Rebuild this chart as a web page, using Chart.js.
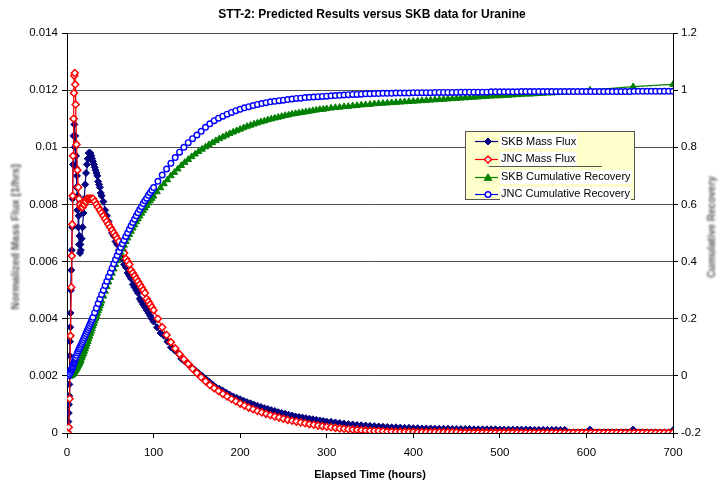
<!DOCTYPE html>
<html>
<head>
<meta charset="utf-8">
<script src="https://cdn.jsdelivr.net/npm/chart.js@4.4.1/dist/chart.umd.min.js"></script>
<style>
  html, body { margin: 0; padding: 0; background: #ffffff; }
  #wrap { width: 720px; height: 486px; }
</style>
</head>
<body>
<div id="wrap"><canvas id="c" width="720" height="486"></canvas></div>
<script>
// ---- text ----
const chartTitle = 'STT-2: Predicted Results versus SKB data for Uranine';
const xTitle = 'Elapsed Time (hours)';
const leftTitle = 'Normalized Mass Flux [1/hrs]';
const rightTitle = 'Cumulative Recovery';
const seriesNames = ['SKB Mass Flux', 'JNC Mass Flux', 'SKB Cumulative Recovery', 'JNC Cumulative Recovery'];

// ---- ticks ----
const xTickValues = [0, 100, 200, 300, 400, 500, 600, 700];
const xTickLabels = ['0', '100', '200', '300', '400', '500', '600', '700'];
const leftTickValues = [0, 0.002, 0.004, 0.006, 0.008, 0.01, 0.012, 0.014];
const leftTickLabels = ['0', '0.002', '0.004', '0.006', '0.008', '0.01', '0.012', '0.014'];
const rightTickValues = [-0.2, 0, 0.2, 0.4, 0.6, 0.8, 1, 1.2];
const rightTickLabels = ['-0.2', '0', '0.2', '0.4', '0.6', '0.8', '1', '1.2'];

// ---- SKB measurements ----
const skbHours = [
  0, 0.5, 1, 1.5, 2, 2.25, 2.5, 2.75, 3, 3.25, 3.5, 3.75, 4, 4.5, 5, 5.5, 6, 6.5, 7, 7.5,
  8, 8.5, 9, 9.5, 10, 10.5, 11, 11.5, 12, 12.5, 13, 13.5, 14, 14.5, 15, 15.5, 16,
  17, 18, 19, 20, 21, 22, 23, 24, 25, 26, 27, 28, 29, 30, 31, 32, 33, 34, 35, 36, 37, 38, 39, 40,
  42, 44, 46, 48, 50, 52, 54, 56, 58, 60, 62, 64, 66, 68, 70, 72, 74, 76, 78, 80,
  82, 84, 86, 88, 90, 92, 94, 96, 98, 100,
  104, 108, 112, 116, 120, 124, 128, 132, 136, 140, 144, 148, 152, 156, 160, 164, 168, 172, 176, 180,
  184, 188, 192, 196, 200, 204, 208, 212, 216, 220, 224, 228, 232, 236, 240, 244, 248, 252, 256, 260,
  264, 268, 272, 276, 280, 284, 288, 292, 296, 300,
  305, 310, 315, 320, 325, 330, 335, 340, 345, 350, 355, 360, 365, 370, 375, 380, 385, 390, 395, 400,
  405, 410, 415, 420, 425, 430, 435, 440, 445, 450, 455, 460, 465, 470, 475, 480, 485, 490, 495, 500,
  505, 510, 515, 520, 525, 530, 535, 540, 545, 550, 555, 560, 565, 570, 575,
  604, 654, 700
];
const skbMassFlux = [
  0, 0.00005, 0.0002, 0.0004, 0.0007, 0.001, 0.0013, 0.0017, 0.0022, 0.0027, 0.0032, 0.0037, 0.0042, 0.005, 0.0057, 0.0064, 0.0072, 0.0082, 0.0094, 0.0104,
  0.011, 0.0108, 0.01, 0.0104, 0.0093, 0.0097, 0.0086, 0.009, 0.0078, 0.0083, 0.0072, 0.0076, 0.0066, 0.0069, 0.0063, 0.0066, 0.0064,
  0.0068, 0.0072, 0.0077, 0.0082, 0.0087, 0.0091, 0.0094, 0.0096, 0.0098, 0.0098, 0.0098, 0.0097, 0.0096, 0.0095, 0.0094, 0.0093, 0.0092, 0.0091, 0.009, 0.0088, 0.0087, 0.0086, 0.0084, 0.0083,
  0.0081, 0.0078, 0.0076, 0.0074, 0.0072, 0.007, 0.0069, 0.0067, 0.0066, 0.0064, 0.0062, 0.0061, 0.0059, 0.0058, 0.0056, 0.0055, 0.0054, 0.0052, 0.0051, 0.005,
  0.0049, 0.0047, 0.0046, 0.0045, 0.0044, 0.0043, 0.0042, 0.0041, 0.004, 0.0039,
  0.0037, 0.0035, 0.0034, 0.0032, 0.003, 0.0029, 0.0028, 0.0026, 0.0025, 0.0024, 0.0023, 0.0022, 0.0021, 0.002, 0.0019, 0.0018, 0.0017, 0.0016, 0.00155, 0.00148,
  0.00141, 0.00134, 0.00128, 0.00123, 0.00118, 0.00113, 0.00108, 0.00104, 0.00099, 0.00095, 0.00091, 0.00087, 0.00084, 0.0008, 0.00077, 0.00073, 0.0007, 0.00067, 0.00064, 0.00061,
  0.00058, 0.00056, 0.00054, 0.00052, 0.0005, 0.00048, 0.00046, 0.00044, 0.00042, 0.0004,
  0.00039, 0.00037, 0.00035, 0.00033, 0.00031, 0.0003, 0.00028, 0.00027, 0.00026, 0.00025, 0.00024, 0.00023, 0.00022, 0.00021, 0.0002, 0.0002, 0.00019, 0.00018, 0.00018, 0.00017,
  0.00017, 0.00016, 0.00016, 0.00016, 0.00015, 0.00015, 0.00015, 0.00015, 0.00014, 0.00014, 0.00014, 0.00014, 0.00014, 0.00013, 0.00013, 0.00013, 0.00013, 0.00013, 0.00013, 0.00012,
  0.00012, 0.00012, 0.00012, 0.00012, 0.00012, 0.00012, 0.00012, 0.00011, 0.00011, 0.00011, 0.00011, 0.00011, 0.00011, 0.00011, 0.00011,
  0.00012, 0.00012, 0.0001
];
const skbRecovery = [
  0, 0, 0, 0, 0, 0, 0, 0, 0, 0, 0, 0, 0, 0.001, 0.002, 0.003, 0.004, 0.005, 0.007, 0.009,
  0.011, 0.013, 0.016, 0.018, 0.021, 0.023, 0.026, 0.028, 0.031, 0.034, 0.037, 0.04, 0.043, 0.046, 0.049, 0.052, 0.056,
  0.063, 0.07, 0.078, 0.086, 0.094, 0.102, 0.111, 0.12, 0.129, 0.138, 0.147, 0.156, 0.165, 0.174, 0.183, 0.192, 0.201, 0.21, 0.219, 0.228, 0.236, 0.245, 0.253, 0.262,
  0.279, 0.296, 0.312, 0.328, 0.344, 0.359, 0.374, 0.389, 0.403, 0.417, 0.431, 0.444, 0.457, 0.47, 0.482, 0.494, 0.506, 0.517, 0.528, 0.539,
  0.549, 0.559, 0.569, 0.578, 0.587, 0.596, 0.605, 0.613, 0.621, 0.629,
  0.644, 0.658, 0.672, 0.686, 0.7, 0.712, 0.724, 0.736, 0.747, 0.757, 0.767, 0.776, 0.785, 0.793, 0.801, 0.809, 0.816, 0.823, 0.83, 0.836,
  0.842, 0.848, 0.853, 0.858, 0.863, 0.868, 0.873, 0.877, 0.881, 0.885, 0.889, 0.892, 0.896, 0.899, 0.902, 0.905, 0.908, 0.911, 0.913, 0.916,
  0.918, 0.92, 0.922, 0.924, 0.926, 0.928, 0.93, 0.932, 0.933, 0.935,
  0.937, 0.939, 0.94, 0.942, 0.943, 0.945, 0.946, 0.948, 0.949, 0.95, 0.952, 0.953, 0.954, 0.955, 0.956, 0.957, 0.958, 0.959, 0.96, 0.961,
  0.962, 0.963, 0.964, 0.965, 0.966, 0.967, 0.968, 0.969, 0.97, 0.971, 0.972, 0.973, 0.974, 0.975, 0.976, 0.977, 0.978, 0.979, 0.98, 0.98,
  0.981, 0.982, 0.983, 0.984, 0.985, 0.986, 0.986, 0.987, 0.988, 0.989, 0.99, 0.99, 0.991, 0.992, 0.993,
  1.0, 1.012, 1.02
];

// ---- JNC predictions ----
const jncHours = [
  0, 1, 2, 3, 4, 5, 5.5, 6, 6.5, 7, 7.5, 8, 8.5, 9, 9.5,
  10, 11, 12, 13, 14, 15, 16, 17, 18, 19, 20, 21, 22, 23, 24, 25, 26, 27, 28, 29, 30,
  32, 34, 36, 38, 40, 42, 44, 46, 48, 50, 52, 54, 56, 58, 60, 62, 64, 66, 68, 70,
  72, 74, 76, 78, 80, 82, 84, 86, 88, 90, 92, 94, 96, 98, 100,
  105, 110, 115, 120, 125, 130, 135, 140, 145, 150, 155, 160, 165, 170, 175, 180, 185, 190, 195, 200,
  205, 210, 215, 220, 225, 230, 235, 240, 245, 250, 255, 260, 265, 270, 275, 280, 285, 290, 295, 300,
  305, 310, 315, 320, 325, 330, 335, 340, 345, 350, 355, 360, 365, 370, 375, 380, 385, 390, 395, 400,
  405, 410, 415, 420, 425, 430, 435, 440, 445, 450, 455, 460, 465, 470, 475, 480, 485, 490, 495, 500,
  505, 510, 515, 520, 525, 530, 535, 540, 545, 550, 555, 560, 565, 570, 575, 580, 585, 590, 595, 600,
  605, 610, 615, 620, 625, 630, 635, 640, 645, 650, 655, 660, 665, 670, 675, 680, 685, 690, 695, 700
];
const jncMassFlux = [
  0, 0, 0.0002, 0.0012, 0.0034, 0.0051, 0.0062, 0.0073, 0.0083, 0.0097, 0.011, 0.0119, 0.0125, 0.0126, 0.0122,
  0.0115, 0.0101, 0.0092, 0.0086, 0.0082, 0.008, 0.0079, 0.0079, 0.0079, 0.008, 0.008, 0.0081, 0.0081, 0.0082, 0.0082, 0.0082, 0.0082, 0.0082, 0.0082, 0.0082, 0.0082,
  0.0081, 0.008, 0.0079, 0.0078, 0.0077, 0.0076, 0.0075, 0.0074, 0.0073, 0.0072, 0.0071, 0.007, 0.0069, 0.0068, 0.0067, 0.0065, 0.0064, 0.0063, 0.0061, 0.006,
  0.0059, 0.0057, 0.0056, 0.0055, 0.0054, 0.0053, 0.0052, 0.0051, 0.005, 0.0049, 0.0047, 0.0046, 0.0045, 0.0044, 0.0043,
  0.004, 0.0037, 0.00343, 0.00318, 0.00296, 0.00276, 0.00258, 0.00242, 0.00225, 0.0021, 0.00195, 0.00181, 0.00168, 0.00157, 0.00147, 0.00137, 0.00128, 0.00119, 0.00111, 0.00103,
  0.00096, 0.00089, 0.00083, 0.00077, 0.00072, 0.00067, 0.00062, 0.00058, 0.00054, 0.0005, 0.00046, 0.00043, 0.0004, 0.00037, 0.00034, 0.00031, 0.00029, 0.00026, 0.00024, 0.00022,
  0.0002, 0.00018, 0.00016, 0.00015, 0.00013, 0.00012, 0.00011, 0.0001, 0.00009, 0.00008, 0.00007, 0.00007, 0.00006, 0.00005, 0.00005, 0.00004, 0.00004, 0.00004, 0.00004, 0.00004,
  0.00003, 0.00003, 0.00003, 0.00003, 0.00003, 0.00003, 0.00003, 0.00003, 0.00003, 0.00003, 0.00002, 0.00002, 0.00002, 0.00002, 0.00002, 0.00002, 0.00002, 0.00002, 0.00002, 0.00002,
  0.00002, 0.00002, 0.00002, 0.00002, 0.00001, 0.00001, 0.00001, 0.00001, 0.00001, 0.00001, 0.00001, 0.00001, 0.00001, 0.00001, 0.00001, 0.00001, 0.00001, 0.00001, 0.00001, 0.00001,
  0.00001, 0.00001, 0.00001, 0.00001, 0.00001, 0.00001, 0.00001, 0.00001, 0.00001, 0.00001, 0.00001, 0.00001, 0.00001, 0.00001, 0.00001, 0.00001, 0.00001, 0.00001, 0.00001, 0.00001
];
const jncRecovery = [
  0, 0, 0.001, 0.006, 0.012, 0.019, 0.023, 0.027, 0.031, 0.036, 0.041, 0.046, 0.05, 0.055, 0.06,
  0.064, 0.072, 0.08, 0.087, 0.094, 0.1, 0.107, 0.113, 0.12, 0.127, 0.134, 0.141, 0.148, 0.155, 0.162, 0.169, 0.176, 0.183, 0.19, 0.197, 0.205,
  0.221, 0.237, 0.253, 0.269, 0.285, 0.3, 0.316, 0.331, 0.347, 0.362, 0.377, 0.392, 0.407, 0.421, 0.435, 0.449, 0.462, 0.475, 0.488, 0.5,
  0.513, 0.525, 0.537, 0.548, 0.56, 0.571, 0.582, 0.592, 0.603, 0.613, 0.622, 0.632, 0.641, 0.65, 0.659,
  0.681, 0.703, 0.724, 0.744, 0.764, 0.783, 0.8, 0.816, 0.83, 0.843, 0.856, 0.87, 0.882, 0.893, 0.902, 0.909, 0.916, 0.922, 0.928, 0.933,
  0.938, 0.942, 0.946, 0.95, 0.953, 0.956, 0.959, 0.961, 0.963, 0.965, 0.967, 0.969, 0.971, 0.972, 0.974, 0.975, 0.976, 0.977, 0.978, 0.979,
  0.98, 0.981, 0.982, 0.983, 0.984, 0.985, 0.985, 0.986, 0.987, 0.987, 0.988, 0.988, 0.989, 0.989, 0.989, 0.99, 0.99, 0.99, 0.99, 0.991,
  0.991, 0.991, 0.991, 0.991, 0.992, 0.992, 0.992, 0.992, 0.992, 0.992, 0.993, 0.993, 0.993, 0.993, 0.993, 0.993, 0.993, 0.994, 0.994, 0.994,
  0.994, 0.994, 0.994, 0.994, 0.995, 0.995, 0.995, 0.995, 0.995, 0.995, 0.995, 0.995, 0.995, 0.995, 0.995, 0.995, 0.995, 0.995, 0.995, 0.995,
  0.995, 0.995, 0.995, 0.995, 0.995, 0.995, 0.995, 0.995, 0.995, 0.995, 0.996, 0.996, 0.996, 0.996, 0.996, 0.996, 0.996, 0.996, 0.996, 0.996
];

// ---- drawing ----
const FONT = '"Liberation Sans", Arial, Helvetica, sans-serif';
const toPoints = (xs, ys) => xs.map((x, i) => ({ x: x, y: ys[i] }));

const seriesStyles = [
  { color: '#000080', fill: '#000080', shape: 'diamond', r: 3.5, bw: 1 },
  { color: '#ff0000', fill: '#ffffff', shape: 'diamond', r: 3.5, bw: 1.5 },
  { color: '#008000', fill: '#008000', shape: 'triangle', r: 3.8, bw: 1 },
  { color: '#0000ff', fill: '#ffffff', shape: 'circle', r: 2.8, bw: 1.4 }
];
const chartStyle = ['rectRot', 'rectRot', 'triangle', 'circle'];

function makeDataset(i, data, axis, order) {
  const s = seriesStyles[i];
  return {
    label: seriesNames[i],
    data: data,
    yAxisID: axis,
    showLine: true,
    borderColor: s.color,
    backgroundColor: s.color,
    borderWidth: 1.2,
    pointStyle: chartStyle[i],
    pointRadius: s.r,
    pointBackgroundColor: s.fill,
    pointBorderColor: s.color,
    pointBorderWidth: s.bw,
    tension: 0,
    order: order
  };
}

function marker(ctx, shape, x, y, r, stroke, fill, bw) {
  ctx.save();
  ctx.beginPath();
  if (shape === 'diamond') {
    ctx.moveTo(x, y - r); ctx.lineTo(x + r, y); ctx.lineTo(x, y + r); ctx.lineTo(x - r, y); ctx.closePath();
  } else if (shape === 'triangle') {
    ctx.moveTo(x, y - r); ctx.lineTo(x + r, y + r * 0.75); ctx.lineTo(x - r, y + r * 0.75); ctx.closePath();
  } else {
    ctx.arc(x, y, r, 0, Math.PI * 2);
  }
  ctx.fillStyle = fill; ctx.fill();
  ctx.lineWidth = bw; ctx.strokeStyle = stroke; ctx.stroke();
  ctx.restore();
}

const decorations = {
  id: 'decorations',
  afterDraw(chart) {
    const ctx = chart.ctx;
    const area = chart.chartArea;
    ctx.save();
    // chart title
    ctx.fillStyle = '#000';
    ctx.font = 'bold 12px ' + FONT;
    ctx.textAlign = 'center';
    ctx.textBaseline = 'middle';
    ctx.fillText(chartTitle, (area.left + area.right) / 2 + 2, 15);

    // axis titles (soft grey)
    ctx.filter = 'blur(0.8px)';
    ctx.fillStyle = '#555';
    ctx.font = 'bold 10.5px ' + FONT;
    ctx.save();
    ctx.translate(16, 237);
    ctx.rotate(-Math.PI / 2);
    ctx.fillText(leftTitle, 0, 0);
    ctx.restore();
    ctx.font = 'bold 10px ' + FONT;
    ctx.save();
    ctx.translate(712, 227);
    ctx.rotate(-Math.PI / 2);
    ctx.fillText(rightTitle, 0, 0);
    ctx.restore();
    ctx.filter = 'none';

    // legend
    const bx = 465.5, by = 131.5, bw = 169, bh = 68;
    ctx.fillStyle = '#ffffcc';
    ctx.fillRect(bx, by, bw, bh);
    ctx.strokeStyle = '#555';
    ctx.lineWidth = 1;
    ctx.strokeRect(bx, by, bw, bh);
    const rows = [141, 158.5, 176.5, 193.5];
    ctx.font = '11px ' + FONT;
    ctx.textAlign = 'left';
    ctx.textBaseline = 'middle';
    for (let i = 0; i < seriesNames.length; i++) {
      const y = rows[i];
      const s = seriesStyles[i];
      const tw = ctx.measureText(seriesNames[i]).width;
      ctx.fillStyle = '#ffffff';
      ctx.fillRect(500, Math.round(y) - 7, tw + 2, 14);
      ctx.strokeStyle = s.color;
      ctx.lineWidth = 1.2;
      ctx.beginPath();
      ctx.moveTo(475, Math.round(y) + 0.5);
      ctx.lineTo(498, Math.round(y) + 0.5);
      ctx.stroke();
      marker(ctx, s.shape, 488, Math.round(y) + 0.5, s.r, s.color, s.fill, s.bw);
      ctx.fillStyle = '#000';
      ctx.fillText(seriesNames[i], 501, y + 0.5);
    }
    ctx.strokeStyle = '#555';
    ctx.lineWidth = 1;
    ctx.beginPath();
    ctx.moveTo(489, 166.5);
    ctx.lineTo(602, 166.5);
    ctx.stroke();
    ctx.restore();
  }
};

const tickFont = { family: FONT, size: 11.5 };

new Chart(document.getElementById('c'), {
  type: 'scatter',
  data: {
    datasets: [
      makeDataset(0, toPoints(skbHours, skbMassFlux), 'y', 3),
      makeDataset(1, toPoints(jncHours, jncMassFlux), 'y', 2),
      makeDataset(2, toPoints(skbHours, skbRecovery), 'y1', 1),
      makeDataset(3, toPoints(jncHours, jncRecovery), 'y1', 0)
    ]
  },
  options: {
    responsive: false,
    animation: false,
    devicePixelRatio: 1,
    layout: { padding: { top: 33, left: 0, right: 0, bottom: 0 } },
    plugins: {
      legend: { display: false },
      tooltip: { enabled: false },
      title: { display: false }
    },
    scales: {
      x: {
        type: 'linear',
        position: 'bottom',
        min: 0,
        max: 700,
        afterBuildTicks: (s) => { s.ticks = xTickValues.map(v => ({ value: v })); },
        afterFit: (s) => { s.height = 53; },
        grid: { drawOnChartArea: false, drawTicks: true, tickLength: 5, tickColor: '#000', color: '#000' },
        border: { display: true, color: '#000', width: 1 },
        ticks: {
          font: tickFont, color: '#000', padding: 8, maxRotation: 0, autoSkip: false,
          callback: (v, i) => xTickLabels[i]
        },
        title: {
          display: true, text: xTitle, color: '#000',
          font: { family: FONT, size: 11, weight: 'bold' },
          padding: { top: 0, bottom: 4 }
        }
      },
      y: {
        type: 'linear',
        position: 'left',
        min: 0,
        max: 0.014,
        afterBuildTicks: (s) => { s.ticks = leftTickValues.map(v => ({ value: v })); },
        afterFit: (s) => { s.width = 67; },
        grid: { color: '#4d4d4d', lineWidth: 1, drawTicks: true, tickLength: 5, tickColor: '#000' },
        border: { display: true, color: '#000', width: 1 },
        ticks: { font: tickFont, color: '#000', padding: 4, callback: (v, i) => leftTickLabels[i] }
      },
      y1: {
        type: 'linear',
        position: 'right',
        min: -0.2,
        max: 1.2,
        afterBuildTicks: (s) => { s.ticks = rightTickValues.map(v => ({ value: v })); },
        afterFit: (s) => { s.width = 47; },
        grid: { drawOnChartArea: false, drawTicks: true, tickLength: 5, tickColor: '#000' },
        border: { display: true, color: '#000', width: 1 },
        ticks: { font: tickFont, color: '#000', padding: 3, callback: (v, i) => rightTickLabels[i] }
      }
    }
  },
  plugins: [decorations]
});
</script>
</body>
</html>
